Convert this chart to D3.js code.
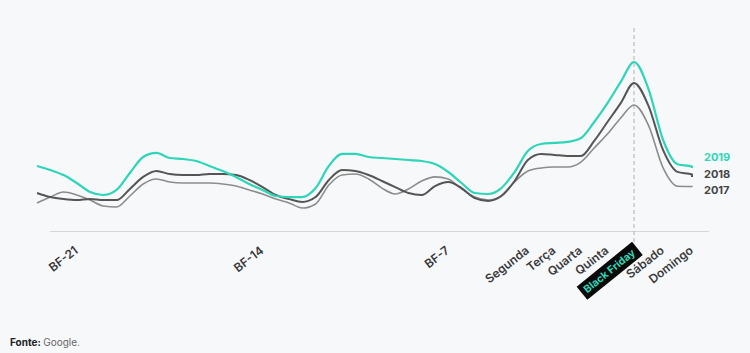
<!DOCTYPE html>
<html>
<head>
    <title>Black Friday search interest</title>
    <script src="https://d3js.org/d3.v7.min.js"></script>
    <style>
        body { margin: 0; background: #f7f8fa; }
        svg { display: block; font-family: Inter, "Open Sans", sans-serif; }
    </style>
</head>
<body>
    <script>
        // day offsets relative to Black Friday (half-day samples)
        const days = d3.range(0, 50).map(i => -22.5 + i * 0.5).concat([2.0]);

        const s2019 = [38.5, 36.1, 33.1, 28.4, 23.1, 21.3, 24.3, 34.3, 43.8, 46.2,
                       43.2, 42.6, 41.4, 38.5, 35.5, 32.0, 27.8, 24.3, 20.7, 20.1,
                       20.1, 25.4, 38.5, 45.6, 45.6, 43.8, 43.2, 42.6, 42.0, 41.4,
                       39.6, 34.9, 28.4, 22.5, 21.9, 25.4, 34.9, 47.3, 51.5, 52.1,
                       52.7, 55.0, 64.5, 75.7, 88.2, 100, 84.0, 54.0, 39.5, 38.1, 37.3];

        const s2018 = [22.5, 20.1, 18.9, 18.3, 18.9, 18.3, 18.3, 24.9, 32.0, 35.5,
                       33.7, 33.1, 33.1, 33.7, 33.7, 33.1, 30.2, 26.0, 21.3, 18.9,
                       17.2, 20.1, 30.2, 36.1, 35.5, 33.1, 29.6, 26.0, 22.5, 21.3,
                       26.6, 29.0, 25.4, 19.5, 17.8, 20.7, 29.6, 42.0, 45.6, 45.0,
                       44.4, 44.4, 53.3, 64.5, 75.7, 87.6, 74.0, 48.0, 35.0, 33.4, 32.0];

        const s2017 = [16.6, 20.1, 23.1, 21.3, 18.3, 14.8, 14.2, 20.7, 27.8, 30.8,
                       29.0, 28.4, 28.4, 28.4, 27.8, 26.6, 24.3, 21.9, 18.9, 16.6,
                       13.6, 16.0, 27.2, 33.1, 33.7, 30.8, 25.4, 21.9, 24.9, 29.6,
                       32.0, 30.8, 24.9, 20.1, 18.3, 20.7, 29.0, 35.5, 37.3, 37.9,
                       37.9, 40.8, 49.1, 57.4, 66.9, 74.6, 62.5, 37.5, 26.5, 26.3, 26.6];

        const tickDays = [-21, -14, -7, -4, -3, -2, -1, 0, 1, 2];
        const tickLabels = ["BF-21", "BF-14", "BF-7", "Segunda", "Terça", "Quarta", "Quinta", "Black Friday", "Sábado", "Domingo"];

        const seriesNames = ["2019", "2018", "2017"];
        const seriesColors = ["#2fd5b8", "#555555", "#8c8c8c"];
        const seriesWidths = [2.2, 2, 1.6];
        const allSeries = [s2019, s2018, s2017];

        const width = 750, height = 353;

        const svg = d3.select("body")
          .append("svg")
            .attr("width", width)
            .attr("height", height);

        // the weekend after Black Friday is drawn a little wider
        const x = d3.scaleLinear()
          .domain([-22.5, 0, 2])
          .range([37, 634, 692]);

        const y = d3.scaleLinear()
          .domain([0, 100])
          .range([231, 62]);

        // baseline
        svg.append("line")
          .attr("x1", 50).attr("x2", 709)
          .attr("y1", 231.5).attr("y2", 231.5)
          .attr("stroke", "#d4d6d9")
          .attr("stroke-width", 1);

        // Black Friday marker
        svg.append("line")
          .attr("x1", x(0)).attr("x2", x(0))
          .attr("y1", 28).attr("y2", 246)
          .attr("stroke", "#b0b0b0")
          .attr("stroke-width", 1)
          .attr("stroke-dasharray", "4,3");

        const line = d3.line()
          .x((d, i) => x(days[i]))
          .y(d => y(d))
          .curve(d3.curveMonotoneX);

        // draw back to front
        [2, 1, 0].forEach(function(k) {
            svg.append("path")
              .datum(allSeries[k])
              .attr("fill", "none")
              .attr("stroke", seriesColors[k])
              .attr("stroke-width", seriesWidths[k])
              .attr("stroke-linejoin", "round")
              .attr("d", line);
        });

        // legend at the line ends
        const legendY = [157, 174, 190];
        seriesNames.forEach(function(name, k) {
            svg.append("text")
              .attr("x", 704)
              .attr("y", legendY[k])
              .attr("dy", "0.35em")
              .style("font-size", "11px")
              .style("font-weight", 700)
              .style("fill", k === 0 ? seriesColors[0] : "#444")
              .text(name);
        });

        // rotated x labels
        const labels = svg.selectAll(".xlab")
          .data(tickDays)
          .enter()
          .append("g")
            .attr("class", "xlab")
            .attr("transform", d => d === 0
                ? `translate(${x(d) + 2},254) rotate(-39)`
                : `translate(${x(d) + 2},252) rotate(-38)`);

        labels.each(function(d, i) {
            const g = d3.select(this);
            const t = g.append("text")
              .attr("text-anchor", "end")
              .style("font-size", d === 0 ? "10.5px" : "12px")
              .style("font-weight", d === 0 ? 700 : 600)
              .style("fill", d === 0 ? seriesColors[0] : "#3a3a3a")
              .text(tickLabels[i]);
            if (d === 0) {
                const b = t.node().getBBox();
                g.insert("rect", "text")
                  .attr("x", b.x - 4)
                  .attr("y", b.y - 2)
                  .attr("width", b.width + 8)
                  .attr("height", b.height + 4)
                  .attr("fill", "#0a0a0a");
            }
        });

        // source
        const src = svg.append("text")
          .attr("x", 10)
          .attr("y", 346)
          .style("font-size", "10px");
        src.append("tspan").style("font-weight", 700).style("fill", "#222").text("Fonte: ");
        src.append("tspan").style("fill", "#666").text("Google.");
    </script>
</body>
</html>
